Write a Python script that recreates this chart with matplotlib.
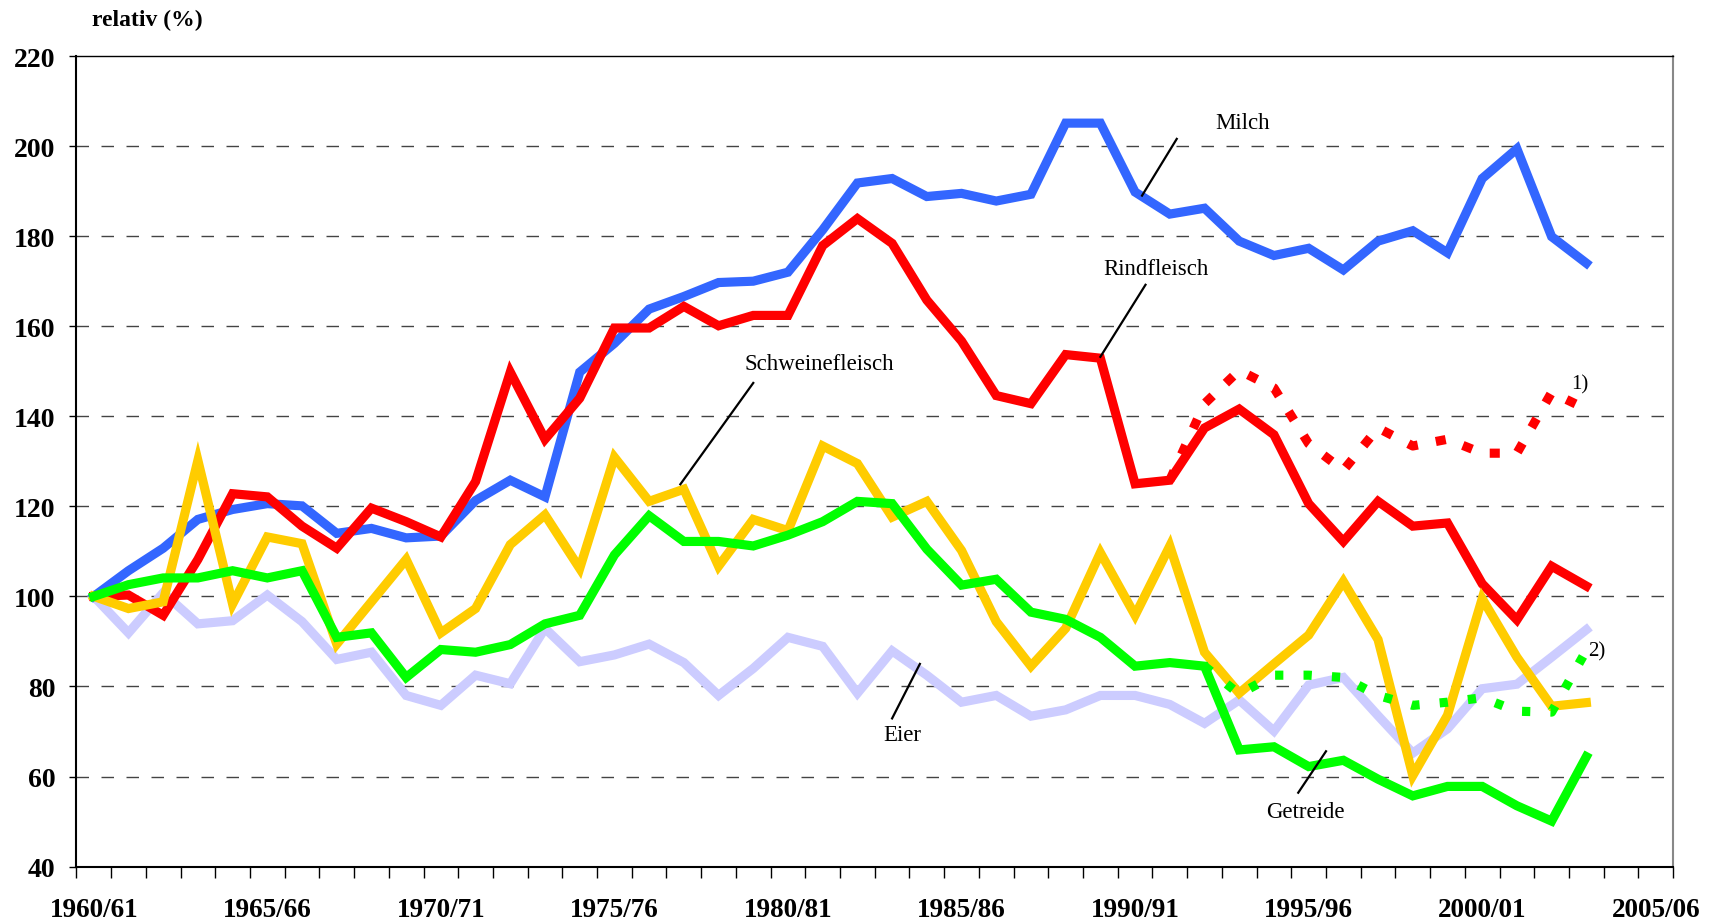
import matplotlib
matplotlib.use("Agg")
import matplotlib.pyplot as plt
from matplotlib.ticker import FixedLocator, NullFormatter

# Index 1960/61 = 100, Wirtschaftsjahre 1960/61 .. 2003/04
years = list(range(1960, 2004))
tick_years = list(range(1960, 2006, 5))
tick_labels = ["1960/61", "1965/66", "1970/71", "1975/76", "1980/81",
               "1985/86", "1990/91", "1995/96", "2000/01", "2005/06"]

milch = [100, 105.7, 110.7, 117.1, 119.3, 120.6, 120.1, 114.0, 115.1, 113.0, 113.4,
         121.3, 125.8, 122.1, 149.8, 156.2, 163.8, 166.6, 169.7, 170.0, 172.0, 181.4,
         191.8, 192.8, 188.8, 189.5, 187.8, 189.3, 205.1, 205.1, 189.8, 184.9, 186.2,
         178.9, 175.7, 177.3, 172.5, 178.9, 181.2, 176.3, 192.8, 199.4, 179.9, 174.0]
rindfleisch = [100, 100.3, 95.8, 108.2, 122.8, 122.1, 115.6, 110.7, 119.6, 116.6, 113.2,
               125.5, 149.8, 134.9, 144.0, 159.6, 159.6, 164.4, 160.1, 162.4, 162.4, 177.9,
               183.9, 178.4, 165.8, 156.7, 144.6, 142.8, 153.7, 152.9, 125.0, 125.8, 137.4,
               141.6, 135.9, 120.6, 112.2, 121.1, 115.6, 116.3, 102.8, 94.8, 106.7, 102.3]
schweinefleisch = [100, 97.3, 98.8, 130.2, 98.3, 113.2, 111.7, 89.4, 98.8, 108.2, 91.9,
                   97.3, 111.5, 118.1, 106.2, 130.9, 121.1, 123.8, 106.7, 117.1, 114.6, 133.4,
                   129.5, 117.6, 121.1, 110.2, 94.4, 84.5, 92.9, 109.7, 95.8, 111.2, 87.6,
                   78.5, 85.0, 91.4, 103.3, 90.4, 60.2, 73.6, 99.5, 86.5, 75.6, 76.4]
getreide = [100, 102.6, 104.1, 104.1, 105.7, 104.1, 105.7, 90.9, 91.9, 82.0, 88.2,
            87.6, 89.3, 93.9, 95.8, 109.2, 117.9, 112.2, 112.2, 111.2, 113.6, 116.6,
            121.1, 120.6, 110.5, 102.5, 103.8, 96.5, 94.9, 90.9, 84.5, 85.3, 84.5,
            65.9, 66.6, 62.2, 63.6, 59.4, 55.7, 57.8, 57.8, 53.5, 50.1, 64.4]
eier = [100, 91.9, 100.8, 93.9, 94.6, 100.3, 94.4, 86.0, 87.6, 78.0, 75.8,
        82.5, 80.6, 92.9, 85.5, 87.0, 89.4, 85.3, 78.0, 84.0, 90.9, 88.9,
        78.5, 87.9, 82.5, 76.5, 78.0, 73.4, 74.8, 78.0, 78.0, 76.0, 71.8,
        77.0, 70.1, 80.3, 82.0, 73.5, 65.2, 70.6, 79.5, 80.5, 86.5, 92.6]

# 1) and 2): alternative series (dotted), from 1991/92 resp. 1992/93
rind_1_years = list(range(1991, 2004))
rind_1 = [125.8, 142.8, 150.2, 146.3, 133.9, 128.0, 137.4, 133.4, 134.9, 131.8, 131.8, 145.3, 141.6]
getreide_2_years = list(range(1992, 2004))
getreide_2 = [84.5, 78.3, 82.5, 82.5, 82.0, 78.0, 75.8, 76.5, 77.5, 74.5, 74.3, 88.0]

serif = "Liberation Serif"

fig = plt.figure(figsize=(17.09, 9.2), dpi=100)
ax = fig.add_axes([0.0447, 0.057, 0.9343, 0.881])

lw = 6.6
ax.plot(years, eier, color="#CCCCFF", lw=lw, solid_joinstyle="miter")
ax.plot(years, milch, color="#3366FF", lw=lw, solid_joinstyle="miter")
ax.plot(years, rindfleisch, color="#FF0000", lw=lw, solid_joinstyle="miter")
ax.plot(rind_1_years, rind_1, color="#FF0000", lw=lw, linestyle=(0, (1.1, 2.0)),
        dash_capstyle="butt")
ax.plot(years, schweinefleisch, color="#FFCC00", lw=lw, solid_joinstyle="miter")
ax.plot(years, getreide, color="#00FF00", lw=lw, solid_joinstyle="miter")
ax.plot(getreide_2_years, getreide_2, color="#00FF00", lw=lw, linestyle=(0, (0.9, 2.2)),
        dash_capstyle="butt")

ax.set_xlim(1959.5, 2005.5)
ax.set_ylim(40, 220)

ax.set_yticks(range(40, 221, 20))
ax.set_yticklabels([str(v) for v in range(40, 221, 20)], fontfamily=serif,
                   fontweight="bold", fontsize=20)
ax.tick_params(axis="y", direction="out", length=5, width=1, pad=10)

ax.set_xticks(tick_years)
ax.set_xticklabels(tick_labels, fontfamily=serif, fontweight="bold", fontsize=19.5)
ax.xaxis.set_minor_locator(FixedLocator([y - 0.5 for y in range(1960, 2007)]))
ax.xaxis.set_minor_formatter(NullFormatter())
ax.tick_params(axis="x", which="major", length=0, pad=22)
ax.tick_params(axis="x", which="minor", direction="out", length=8, width=1)

for v in range(60, 220, 20):
    ax.axhline(v, color="#444444", lw=1.0, linestyle=(0, (9, 9)), zorder=0)

ax.spines["left"].set_linewidth(1.5)
ax.spines["bottom"].set_linewidth(1.5)
ax.spines["top"].set_linewidth(1.0)
ax.spines["right"].set_color("#888888")
ax.spines["right"].set_linewidth(1.5)

fig.text(0.054, 0.978, "relativ (%)", fontfamily=serif, fontweight="bold", fontsize=17,
         va="center", ha="left")

# series labels with leader lines
labels = [
    ("Milch", 1993.1, 205.2, (1991.2, 201.6), (1990.2, 189.0)),
    ("Rindfleisch", 1990.6, 172.8, (1990.3, 169.2), (1989.0, 153.2)),
    ("Schweinefleisch", 1980.9, 151.8, (1979.0, 147.4), (1976.9, 124.9)),
    ("Eier", 1983.3, 69.3, (1983.0, 72.9), (1983.8, 85.0)),
    ("Getreide", 1994.9, 52.3, (1994.7, 56.4), (1995.5, 65.6)),
]
for text, tx, ty, p0, p1 in labels:
    ax.text(tx, ty, text, fontfamily=serif, fontsize=16.5, ha="center", va="center")
    ax.plot([p0[0], p1[0]], [p0[1], p1[1]], color="black", lw=1.6)

ax.text(2002.8, 147.2, "1)", fontfamily=serif, fontsize=15, ha="center", va="center")
ax.text(2003.3, 88.0, "2)", fontfamily=serif, fontsize=15, ha="center", va="center")

fig.savefig("out.png", dpi=100)
